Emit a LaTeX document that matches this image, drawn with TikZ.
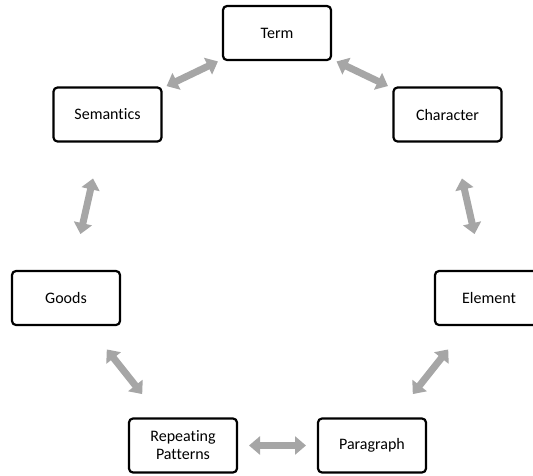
\documentclass[tikz,border=0pt]{standalone}
\usepackage{fontspec}
\setmainfont[Ligatures={NoCommon}]{Carlito}
\usetikzlibrary{arrows.meta,calc}
\definecolor{arrgray}{HTML}{A6A6A6}
\tikzset{
  box/.style={draw=black, line width=2.2pt, rounded corners=4pt, fill=white,
    minimum width=108pt, minimum height=54pt, inner sep=0pt, align=center,
    font=\fontsize{16}{18}\selectfont},
  biarrow/.style={draw=arrgray, line width=7pt,
    {Triangle[width=18pt,length=11pt]}-{Triangle[width=18pt,length=11pt]}}
}
\begin{document}
\begin{tikzpicture}[x=1pt,y=-1pt]
\useasboundingbox (0,0) rectangle (533,475);
\node[box] (term) at (277,33) {Term};
\node[box] (char) at (447.5,114.5) {Character};
\node[box] (sem) at (107.5,114.5) {Semantics};
\node[box] (goods) at (66,298) {Goods};
\node[box] (elem) at (489,298) {Element};
\node[box] (rep) at (183,445.5) {Repeating\\Patterns};
\node[box] (par) at (372,445.5) {Paragraph};
\foreach \a/\b in {term/sem, term/char, char/elem, elem/par, par/rep, rep/goods, goods/sem}{
  \draw[biarrow] ($(\a)!0.5!(\b)!28.5pt!(\a)$) -- ($(\a)!0.5!(\b)!28.5pt!(\b)$);
}
\end{tikzpicture}
\end{document}
